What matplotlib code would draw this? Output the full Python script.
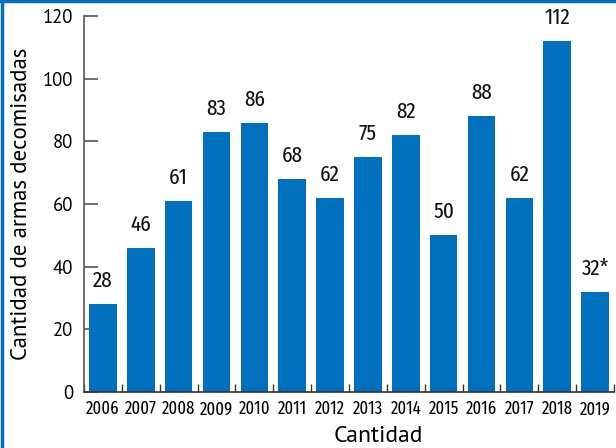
import matplotlib
matplotlib.use("Agg")
import matplotlib.pyplot as plt
from matplotlib.lines import Line2D
from matplotlib import font_manager

years = ["2006", "2007", "2008", "2009", "2010", "2011", "2012",
         "2013", "2014", "2015", "2016", "2017", "2018", "2019"]
values = [28, 46, 61, 83, 86, 68, 62, 75, 82, 50, 88, 62, 112, 32]
value_labels = ["28", "46", "61", "83", "86", "68", "62",
                "75", "82", "50", "88", "62", "112", "32*"]
yticks = [0, 20, 40, 60, 80, 100, 120]

names = {f.name for f in font_manager.fontManager.ttflist}
def pick(cands):
    for c in cands:
        if c in names:
            return [c, "DejaVu Sans"]
    return ["DejaVu Sans"]
narrow = pick(["Myriad Pro Condensed", "Fira Sans Extra Condensed", "Roboto Condensed",
               "PT Sans Narrow", "Liberation Sans Narrow"])
plain = pick(["Myriad Pro", "PT Sans", "Open Sans"])

blue = "#006fbe"
fig = plt.figure(figsize=(6.16, 4.48), dpi=100)
ax = fig.add_axes([84/616, 1-392/448, (614-84)/616, (392-16)/448])

x = list(range(len(years)))
ax.bar(x, values, width=0.73, color=blue, zorder=2)
ax.set_xlim(-0.5, len(years)-0.5)
ax.set_ylim(0, 120)

for xi, v, lab in zip(x, values, value_labels):
    ax.annotate(lab, (xi, v), xytext=(0, 9), textcoords="offset points",
                ha="center", va="bottom", fontsize=16.5, family=narrow, color="#111111")

for s in ["top", "right"]:
    ax.spines[s].set_visible(False)
ax.spines["left"].set_color("#555555")
ax.spines["bottom"].set_color("#333333")
ax.spines["left"].set_linewidth(1.2)
ax.spines["bottom"].set_linewidth(1.2)

ax.set_yticks(yticks)
ax.set_yticklabels([str(t) for t in yticks], fontsize=13.5, family=plain)
ax.tick_params(axis="y", direction="in", length=10, width=1.2, color="#555555", pad=8)

ax.set_xticks(x)
ax.set_xticklabels(years, fontsize=13, family=narrow)
ax.tick_params(axis="x", which="major", length=0, pad=6)
ax.set_xticks([i - 0.5 for i in range(len(years) + 1)], minor=True)
ax.tick_params(axis="x", which="minor", direction="in", length=6, width=1.0, color="#333333")

ax.set_xlabel("Cantidad", fontsize=17, family=plain)
ax.xaxis.set_label_coords((378-84)/530, -(442-392)/376)
ax.xaxis.label.set_va("baseline")
ax.set_ylabel("Cantidad de armas decomisadas", fontsize=16.5, family=plain)
ax.yaxis.set_label_coords(-(84-22)/530, 0.5)
ax.yaxis.label.set_va("center")

fig.add_artist(Line2D([0, 1], [1 - 1/448, 1 - 1/448], transform=fig.transFigure, color=blue, lw=2.5))
fig.add_artist(Line2D([2.5/616, 2.5/616], [0, 1], transform=fig.transFigure, color=blue, lw=2.5))

fig.savefig("out.png", dpi=100)
